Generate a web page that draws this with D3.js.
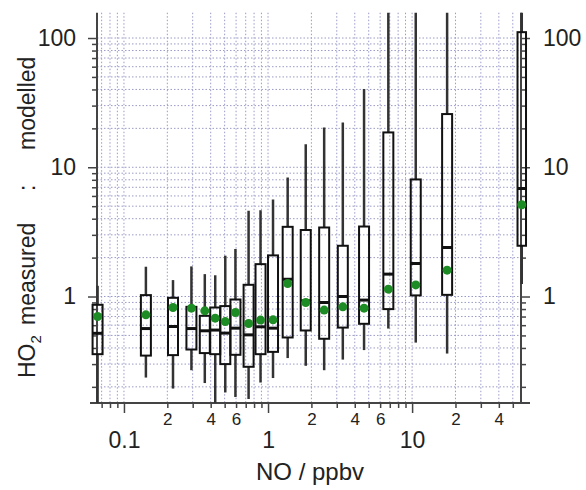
<!DOCTYPE html>
<html>
<head>
<meta charset="utf-8">
<script src="https://cdn.jsdelivr.net/npm/d3@7"></script>
<style>
  body { margin: 0; background: #fff; }
  svg { font-family: "Liberation Sans", Arial, sans-serif; }
</style>
</head>
<body>
<div id="chart"></div>
<script>
// NO bins (ppbv) and HO2 measured:modelled ratio statistics
var noBins      = [0.0656, 0.142, 0.219, 0.294, 0.364, 0.43, 0.505, 0.594, 0.733, 0.887, 1.083, 1.369, 1.827, 2.453, 3.304, 4.64, 6.84, 10.6, 17.5, 57.7];
var whiskerLow  = [0.10, 0.236, 0.194, 0.269, 0.214, 0.12, 0.181, 0.167, 0.161, 0.216, 0.234, 0.334, 0.291, 0.269, 0.325, 0.385, 0.565, 0.44, 0.362, 1.25];
var q1          = [0.358, 0.349, 0.352, 0.389, 0.365, 0.358, 0.30, 0.354, 0.286, 0.358, 0.373, 0.482, 0.546, 0.471, 0.575, 0.615, 0.799, 1.02, 1.03, 2.47];
var median      = [0.519, 0.565, 0.586, 0.565, 0.543, 0.55, 0.521, 0.569, 0.505, 0.583, 0.569, 1.36, 0.926, 0.899, 1.0, 0.938, 1.49, 1.80, 2.39, 6.85];
var q3          = [0.863, 1.025, 0.977, 0.832, 0.709, 0.822, 0.843, 0.948, 1.232, 1.78, 2.08, 3.46, 3.27, 3.42, 2.47, 3.48, 18.6, 8.05, 25.8, 111];
var whiskerHigh = [1.21, 1.70, 1.34, 1.71, 1.49, 1.46, 2.07, 2.33, 4.61, 4.66, 5.63, 8.34, 15.1, 20.3, 22.2, 40.3, 250, 250, 250, 300];
var meanRatio   = [0.70, 0.721, 0.822, 0.813, 0.775, 0.68, 0.64, 0.752, 0.618, 0.657, 0.66, 1.26, 0.898, 0.785, 0.832, 0.813, 1.14, 1.23, 1.60, 5.13];

// tick values / labels
var xMajorTicks = [0.1, 1, 10];
var xMinorTicks = [0.07, 0.08, 0.09, 0.2, 0.3, 0.4, 0.5, 0.6, 0.7, 0.8, 0.9, 2, 3, 4, 5, 6, 7, 8, 9, 20, 30, 40, 50];
var xMinorLabels = [0.2, 0.4, 0.6, 2, 4, 6, 20, 40];
var yMajorTicks = [1, 10, 100];
var yMinorTicks = [0.2, 0.3, 0.4, 0.5, 0.6, 0.7, 0.8, 0.9, 2, 3, 4, 5, 6, 7, 8, 9, 20, 30, 40, 50, 60, 70, 80, 90];

var svgWidth = 586;
var svgHeight = 490;

var plot = { left: 97, right: 521, top: 12.7, bottom: 403 };

var svg = d3.select("#chart")
    .append("svg")
    .attr("width", svgWidth)
    .attr("height", svgHeight);

var xScale = d3.scaleLog()
    .domain([0.065, 57])
    .range([plot.left, plot.right]);

var yScale = d3.scaleLog()
    .domain([0.15, 157])
    .range([plot.bottom, plot.top]);

var gridColor = "#9a9ac8";
var axisColor = "#444";

// grid
var grid = svg.append("g");
grid.selectAll(".vgrid")
    .data(xMajorTicks.concat(xMinorTicks))
    .enter()
    .append("line")
    .attr("x1", d => xScale(d))
    .attr("x2", d => xScale(d))
    .attr("y1", plot.top)
    .attr("y2", plot.bottom)
    .attr("stroke", gridColor)
    .attr("stroke-width", 1)
    .attr("stroke-dasharray", "1.5,2");

grid.selectAll(".hgrid")
    .data(yMajorTicks.concat(yMinorTicks))
    .enter()
    .append("line")
    .attr("x1", plot.left)
    .attr("x2", plot.right)
    .attr("y1", d => yScale(d))
    .attr("y2", d => yScale(d))
    .attr("stroke", gridColor)
    .attr("stroke-width", 1)
    .attr("stroke-dasharray", "1.5,2");

// axes
function styleAxis(g) {
    g.select(".domain").remove();
    g.selectAll(".tick line").attr("stroke", axisColor).attr("stroke-width", 1.5);
    g.selectAll("text").attr("fill", "#222").attr("font-family", "Liberation Sans, Arial, sans-serif");
}

// x minor ticks + labels
svg.append("g")
    .attr("transform", `translate(0, ${plot.bottom})`)
    .call(d3.axisBottom(xScale).tickValues(xMinorTicks).tickSize(5).tickPadding(5)
        .tickFormat(d => xMinorLabels.indexOf(d) >= 0 ? String(d).replace(/^0\./, "").replace(/0$/, "") : ""))
    .call(styleAxis)
    .selectAll("text").attr("font-size", 17);

// x major ticks + labels
svg.append("g")
    .attr("transform", `translate(0, ${plot.bottom})`)
    .call(d3.axisBottom(xScale).tickValues(xMajorTicks).tickSize(10).tickPadding(19)
        .tickFormat(d => String(d)))
    .call(styleAxis)
    .selectAll("text").attr("font-size", 23);

// y left
svg.append("g")
    .attr("transform", `translate(${plot.left}, 0)`)
    .call(d3.axisLeft(yScale).tickValues(yMinorTicks).tickSize(5).tickFormat(""))
    .call(styleAxis);
svg.append("g")
    .attr("transform", `translate(${plot.left}, 0)`)
    .call(d3.axisLeft(yScale).tickValues(yMajorTicks).tickSize(9).tickPadding(12).tickFormat(d => String(d)))
    .call(styleAxis)
    .selectAll("text").attr("font-size", 23);

// y right
svg.append("g")
    .attr("transform", `translate(${plot.right}, 0)`)
    .call(d3.axisRight(yScale).tickValues(yMinorTicks).tickSize(5).tickFormat(""))
    .call(styleAxis);
svg.append("g")
    .attr("transform", `translate(${plot.right}, 0)`)
    .call(d3.axisRight(yScale).tickValues(yMajorTicks).tickSize(9).tickPadding(13).tickFormat(d => String(d)))
    .call(styleAxis)
    .selectAll("text").attr("font-size", 23);

// axis lines
svg.append("line")
    .attr("x1", plot.left - 7).attr("x2", plot.right + 9)
    .attr("y1", plot.bottom).attr("y2", plot.bottom)
    .attr("stroke", axisColor).attr("stroke-width", 2);
svg.append("line")
    .attr("x1", plot.left).attr("x2", plot.left)
    .attr("y1", plot.top).attr("y2", plot.bottom)
    .attr("stroke", axisColor).attr("stroke-width", 2);
svg.append("line")
    .attr("x1", plot.right).attr("x2", plot.right)
    .attr("y1", plot.top).attr("y2", plot.bottom)
    .attr("stroke", axisColor).attr("stroke-width", 2);

// clip vertically to plot area
svg.append("clipPath")
    .attr("id", "clipPlot")
    .append("rect")
    .attr("x", 0)
    .attr("y", plot.top)
    .attr("width", svgWidth)
    .attr("height", plot.bottom - plot.top);

var boxes = svg.append("g").attr("clip-path", "url(#clipPlot)");

var idx = d3.range(noBins.length);
var boxW = i => (i === noBins.length - 1 ? 8.5 : 10);

// whiskers
boxes.selectAll(".whiskHi")
    .data(idx)
    .enter()
    .append("line")
    .attr("x1", i => xScale(noBins[i]))
    .attr("x2", i => xScale(noBins[i]))
    .attr("y1", i => yScale(q3[i]))
    .attr("y2", i => yScale(whiskerHigh[i]))
    .attr("stroke", "#333")
    .attr("stroke-width", 2.5);

boxes.selectAll(".whiskLo")
    .data(idx)
    .enter()
    .append("line")
    .attr("x1", i => xScale(noBins[i]))
    .attr("x2", i => xScale(noBins[i]))
    .attr("y1", i => yScale(q1[i]))
    .attr("y2", i => yScale(whiskerLow[i]))
    .attr("stroke", "#333")
    .attr("stroke-width", 2.5);

// boxes
boxes.selectAll(".box")
    .data(idx)
    .enter()
    .append("rect")
    .attr("x", i => xScale(noBins[i]) - boxW(i) / 2)
    .attr("y", i => yScale(q3[i]))
    .attr("width", i => boxW(i))
    .attr("height", i => yScale(q1[i]) - yScale(q3[i]))
    .attr("fill", "none")
    .attr("stroke", "#111")
    .attr("stroke-width", 2);

// medians
boxes.selectAll(".med")
    .data(idx)
    .enter()
    .append("line")
    .attr("x1", i => xScale(noBins[i]) - boxW(i) / 2)
    .attr("x2", i => xScale(noBins[i]) + boxW(i) / 2)
    .attr("y1", i => yScale(median[i]))
    .attr("y2", i => yScale(median[i]))
    .attr("stroke", "#111")
    .attr("stroke-width", 3);

// means
boxes.selectAll(".mean")
    .data(idx)
    .enter()
    .append("circle")
    .attr("cx", i => xScale(noBins[i]))
    .attr("cy", i => yScale(meanRatio[i]))
    .attr("r", 4.5)
    .attr("fill", "#1e8c24");

// axis titles
svg.append("text")
    .attr("x", 310)
    .attr("y", 480)
    .attr("text-anchor", "middle")
    .attr("font-size", 24)
    .attr("fill", "#222")
    .text("NO / ppbv");

var yTitle = svg.append("text")
    .attr("transform", "translate(35, 378) rotate(-90)")
    .attr("font-size", 23)
    .attr("fill", "#222");
yTitle.append("tspan").attr("x", 0).text("HO");
yTitle.append("tspan").attr("dy", 6).attr("font-size", 15).text("2");
yTitle.append("tspan").attr("x", 53).attr("dy", -6).text("measured");
yTitle.append("tspan").attr("x", 187).text(":");
yTitle.append("tspan").attr("x", 228).text("modelled");
</script>
</body>
</html>
